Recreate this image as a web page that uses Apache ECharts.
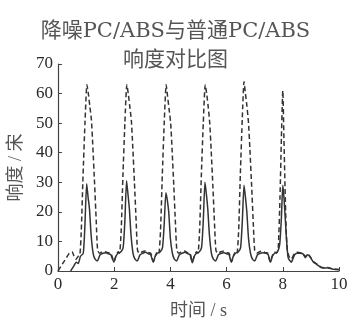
<!DOCTYPE html>
<html><head><meta charset="utf-8">
<script src="https://cdn.jsdelivr.net/npm/echarts@6/dist/echarts.min.js"></script>
<style>html,body{margin:0;padding:0;background:#fff}#c{width:351px;height:320px}</style>
</head><body><div id="c"></div>
<script>
var titleLines = ['降噪PC/ABS与普通PC/ABS', '响度对比图'];
var xName = '时间 / s';
var yName = '响度 / 宋';
var xTicks = [0, 2, 4, 6, 8, 10];
var yTicks = [0, 10, 20, 30, 40, 50, 60, 70];

// solid line (降噪PC/ABS): [time s, loudness sone]
var solidPts = [[0.45,0],[0.55,1.5],[0.65,3],[0.72,2.5],[0.8,5],[0.9,6],[0.96,16],[1.02,29.5],[1.07,25],[1.12,21],[1.18,12],[1.25,6],[1.32,4],[1.40,3.4],[1.5,5.5],[1.6,6],[1.7,6.2],[1.8,5.8],[1.88,5.5],[1.94,4],[1.99,3],[2.06,5],[2.14,6],[2.24,6.5],[2.32,8],[2.38,17],[2.44,30.5],[2.49,26],[2.54,21],[2.6,12],[2.67,6],[2.74,4],[2.82,3.4],[2.92,5.5],[3.02,6],[3.12,6.3],[3.22,5.8],[3.3,5.5],[3.35,4],[3.39,3],[3.46,5],[3.54,6],[3.64,6.5],[3.72,8],[3.78,16],[3.84,26.5],[3.89,24],[3.94,20],[4.0,11],[4.07,6],[4.14,4],[4.22,3.4],[4.32,5.5],[4.42,6],[4.52,6.3],[4.62,5.8],[4.7,5.5],[4.74,4],[4.78,2.8],[4.85,5],[4.93,6],[5.03,6.5],[5.11,8],[5.17,17],[5.23,30],[5.28,26],[5.33,21],[5.39,12],[5.46,6],[5.53,4],[5.61,3.4],[5.71,5.5],[5.81,6],[5.91,6.2],[6.01,5.8],[6.09,5.5],[6.13,4],[6.17,3],[6.24,5],[6.32,6],[6.42,6.5],[6.5,8],[6.56,17],[6.62,29],[6.67,25],[6.72,20],[6.78,11],[6.85,6],[6.92,4],[7.0,3.4],[7.1,5.5],[7.2,6],[7.3,6.2],[7.4,6],[7.48,5.5],[7.52,4],[7.56,3],[7.63,5],[7.71,6],[7.81,6.5],[7.89,9],[7.95,18],[8.0,29],[8.04,25],[8.08,19],[8.13,11],[8.19,4.5],[8.3,3],[8.42,5.5],[8.52,6],[8.62,6],[8.72,5.8],[8.8,4.5],[8.88,5.5],[8.95,5],[9.02,4],[9.09,3],[9.18,2.4],[9.27,1.8],[9.36,1.2],[9.5,1],[9.6,1.1],[9.7,0.8],[9.8,0.6],[9.9,0.5],[10,0.4]];

// dashed line (普通PC/ABS): [time s, loudness sone]
var dashPts = [[0,0],[0.1,1.5],[0.2,3],[0.3,4.5],[0.4,6],[0.5,6.5],[0.57,5],[0.64,4],[0.72,5],[0.78,5.5],[0.83,14],[0.89,32],[0.96,50],[1.03,63],[1.08,60],[1.13,56],[1.19,51],[1.24,42],[1.3,30],[1.36,17],[1.41,7],[1.48,6],[1.58,6.5],[1.68,6.5],[1.78,6.2],[1.88,6],[1.94,4.5],[1.99,3.2],[2.06,5],[2.14,6.5],[2.19,6],[2.25,14],[2.31,32],[2.38,50],[2.45,63],[2.5,60],[2.55,56],[2.61,51],[2.66,42],[2.72,30],[2.78,17],[2.83,7],[2.9,6],[3.0,6.5],[3.1,6.8],[3.2,6.2],[3.3,6],[3.35,4.5],[3.39,3.2],[3.46,5],[3.54,6.5],[3.59,6],[3.65,14],[3.71,32],[3.78,50],[3.85,63],[3.9,59],[3.95,55],[4.01,50],[4.06,41],[4.12,29],[4.18,16],[4.23,7],[4.3,6],[4.4,6.5],[4.5,6.8],[4.6,6.2],[4.7,6],[4.74,4.5],[4.78,3.2],[4.85,5],[4.93,6.5],[4.98,6],[5.04,14],[5.1,32],[5.17,50],[5.24,63],[5.29,60],[5.34,56],[5.4,50],[5.45,41],[5.51,29],[5.57,16],[5.62,7],[5.69,6],[5.79,6.5],[5.89,6.7],[5.99,6.2],[6.09,6],[6.13,4.5],[6.17,3.2],[6.24,5],[6.32,6.5],[6.37,6],[6.43,14],[6.49,33],[6.56,52],[6.62,64],[6.67,60],[6.72,56],[6.78,50],[6.83,41],[6.89,29],[6.95,16],[7.0,7],[7.07,6],[7.17,6.5],[7.27,6.8],[7.37,6.2],[7.47,6],[7.51,4.5],[7.55,3.2],[7.62,5],[7.7,6.5],[7.78,6],[7.84,8],[7.9,25],[7.95,45],[8.0,61],[8.04,45],[8.08,28],[8.12,14],[8.16,7],[8.22,5],[8.3,4],[8.42,6],[8.52,6.3],[8.62,6.2],[8.72,6],[8.8,4.8],[8.88,5.8],[8.95,5.2],[9.02,4.2],[9.09,3.2],[9.18,2.6],[9.27,2],[9.36,1.3],[9.5,1.1],[9.6,1.2],[9.7,0.9],[9.8,0.7],[9.9,0.6],[10,0.5]];

var chart = echarts.init(document.getElementById('c'), null, {renderer: 'canvas'});
var serif = '"Liberation Serif", "Noto Sans CJK SC", serif';
chart.setOption({
  animation: false,
  title: {
    text: titleLines.join('\n'),
    left: 'center', top: 12,
    textStyle: {fontFamily: '"DejaVu Serif", "Noto Sans CJK SC", serif', fontSize: 21, fontWeight: 'normal', color: '#555', lineHeight: 29}
  },
  grid: {left: 58, right: 12, top: 64, bottom: 49, outerBoundsMode: 'none', containLabel: false},
  xAxis: {
    type: 'value', min: 0, max: 10, interval: 2,
    name: xName, nameLocation: 'middle', nameGap: 31,
    nameTextStyle: {fontFamily: serif, fontSize: 18, color: '#555'},
    axisLine: {lineStyle: {color: '#444', width: 1.2}},
    axisTick: {inside: true, length: 4, lineStyle: {color: '#444'}},
    axisLabel: {fontFamily: serif, fontSize: 17, color: '#2a2a2a', margin: 5,
      formatter: function (v) { return xTicks.indexOf(v) >= 0 ? String(v) : ''; }},
    splitLine: {show: false}
  },
  yAxis: {
    type: 'value', min: 0, max: 70, interval: 10,
    name: yName, nameLocation: 'middle', nameGap: 32,
    nameTextStyle: {fontFamily: serif, fontSize: 18, color: '#555'},
    axisLine: {show: true, lineStyle: {color: '#444', width: 1.2}},
    axisTick: {show: true, inside: true, length: 4, lineStyle: {color: '#444'}},
    axisLabel: {fontFamily: serif, fontSize: 17, color: '#2a2a2a', margin: 5,
      formatter: function (v) { return yTicks.indexOf(v) >= 0 ? String(v) : ''; }},
    splitLine: {show: false}
  },
  series: [
    {name: '普通PC/ABS', type: 'line', data: dashPts, showSymbol: false, smooth: 0.2,
      lineStyle: {color: '#333', width: 1.5, type: [5, 3]}},
    {name: '降噪PC/ABS', type: 'line', data: solidPts, showSymbol: false, smooth: 0.2,
      lineStyle: {color: '#333', width: 1.5}}
  ]
});
</script></body></html>
